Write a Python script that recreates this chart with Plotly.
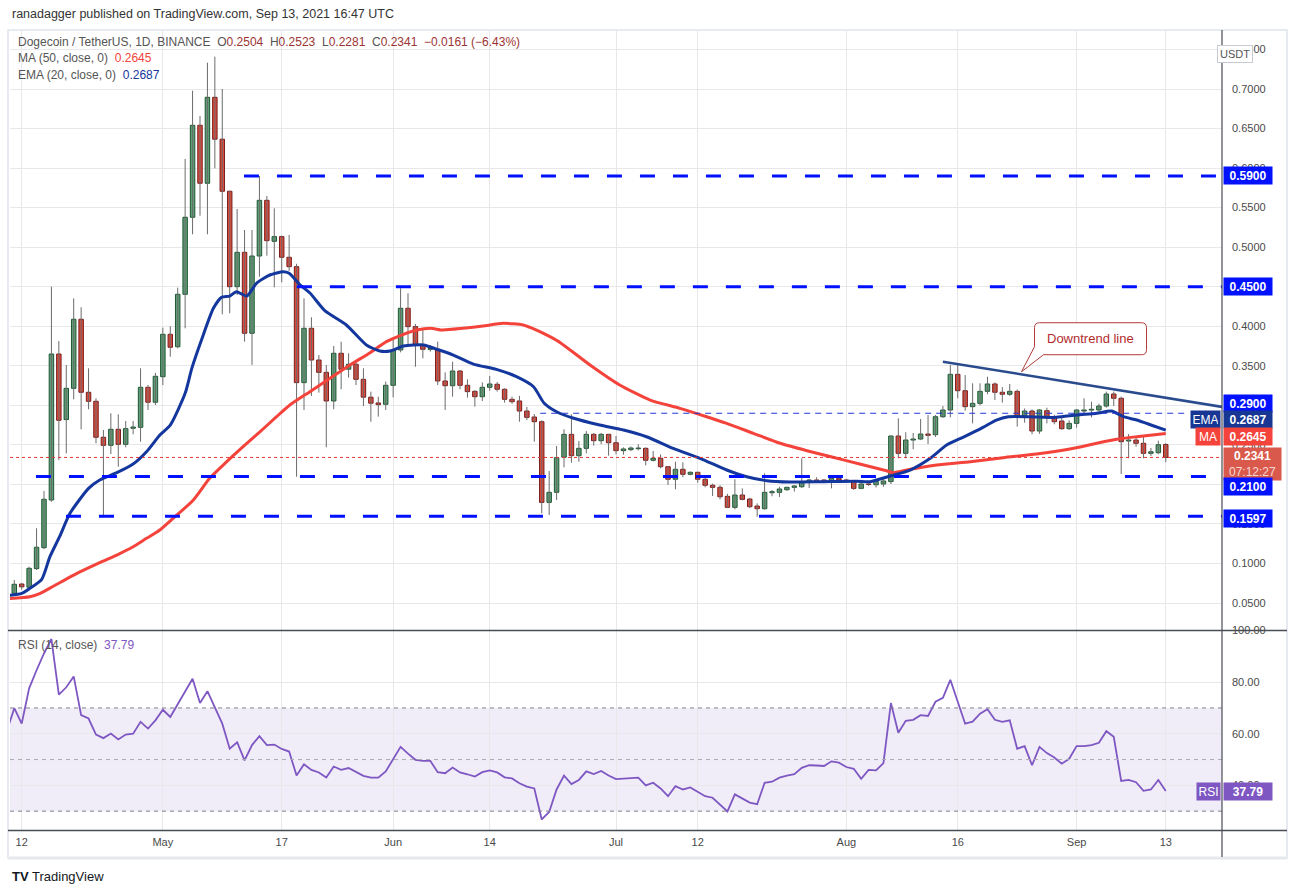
import pandas as pd
import plotly.graph_objects as go

# -------------------------------------------------------------------
# DATA (2021-04-11 .. 2021-09-13)
FIRST_DAY = "2021-04-11"

opens = [0.0623, 0.0740, 0.0700, 0.0935, 0.1200, 0.1803, 0.3649, 0.2820, 0.3215, 0.4088,
         0.3165, 0.3051, 0.2596, 0.2494, 0.2697, 0.2507, 0.2710, 0.2722, 0.3228, 0.3039,
         0.3362, 0.3898, 0.3741, 0.4404, 0.5378, 0.6541, 0.5808, 0.6895, 0.6365, 0.5707,
         0.4500, 0.4935, 0.3911, 0.4888, 0.5592, 0.5074, 0.5133, 0.4872, 0.4753, 0.3287,
         0.3974, 0.3573, 0.3417, 0.3055, 0.3658, 0.3457, 0.3519, 0.3329, 0.3103, 0.3030,
         0.3013, 0.3253, 0.3700, 0.4227, 0.3995, 0.3754, 0.3708, 0.3708, 0.3308, 0.3248,
         0.3434, 0.3253, 0.3177, 0.3109, 0.3228, 0.3266, 0.3203, 0.3076, 0.3055, 0.2928,
         0.2852, 0.2793, 0.1773, 0.1900, 0.2343, 0.2633, 0.2363, 0.2456, 0.2633, 0.2553,
         0.2633, 0.2527, 0.2427, 0.2440, 0.2452, 0.2456, 0.2305, 0.2330, 0.2224, 0.2065,
         0.2191, 0.2128, 0.2153, 0.2065, 0.1989, 0.1963, 0.1849, 0.1710, 0.1866, 0.1815,
         0.1727, 0.1693, 0.1895, 0.1900, 0.1933, 0.1963, 0.1971, 0.2027, 0.2056, 0.2056,
         0.2040, 0.2077, 0.2056, 0.2040, 0.1950, 0.2005, 0.1996, 0.2005, 0.2035, 0.2612,
         0.2393, 0.2561, 0.2574, 0.2637, 0.2629, 0.2856, 0.2941, 0.3392, 0.3185, 0.2983,
         0.3025, 0.3177, 0.3270, 0.3165, 0.3140, 0.3177, 0.2870, 0.2928, 0.2675, 0.2932,
         0.2848, 0.2802, 0.2705, 0.2772, 0.2928, 0.2940, 0.2941, 0.2991, 0.3143, 0.3089,
         0.2549, 0.2561, 0.2520, 0.2393, 0.2401, 0.2504]
highs = [0.0791, 0.0754, 0.0960, 0.1445, 0.1917, 0.4500, 0.3813, 0.3510, 0.4353, 0.4240,
         0.3468, 0.3089, 0.2688, 0.2899, 0.2886, 0.2802, 0.2802, 0.3468, 0.3257, 0.3410,
         0.3982, 0.4000, 0.4488, 0.6115, 0.6979, 0.6659, 0.7333, 0.7409, 0.7000, 0.5713,
         0.5483, 0.5217, 0.5217, 0.5900, 0.5647, 0.5491, 0.5147, 0.5154, 0.4790, 0.4353,
         0.4113, 0.3636, 0.3510, 0.3750, 0.3805, 0.3658, 0.3565, 0.3468, 0.3173, 0.3109,
         0.3299, 0.3856, 0.4480, 0.4417, 0.4028, 0.3953, 0.3763, 0.3805, 0.3417, 0.3552,
         0.3445, 0.3329, 0.3190, 0.3291, 0.3371, 0.3295, 0.3215, 0.3109, 0.3120, 0.2980,
         0.2890, 0.2810, 0.2169, 0.2486, 0.2697, 0.2886, 0.2549, 0.2675, 0.2650, 0.2650,
         0.2640, 0.2612, 0.2469, 0.2480, 0.2507, 0.2469, 0.2422, 0.2380, 0.2230, 0.2287,
         0.2280, 0.2165, 0.2160, 0.2090, 0.2010, 0.1990, 0.1880, 0.2065, 0.1950, 0.1830,
         0.1760, 0.2140, 0.1930, 0.1970, 0.1970, 0.1990, 0.2330, 0.2070, 0.2090, 0.2062,
         0.2090, 0.2100, 0.2070, 0.2056, 0.2020, 0.2020, 0.2070, 0.2070, 0.2616, 0.2836,
         0.2659, 0.2650, 0.2827, 0.2878, 0.2878, 0.2991, 0.3510, 0.3510, 0.3383, 0.3278,
         0.3278, 0.3362, 0.3290, 0.3230, 0.3270, 0.3200, 0.2960, 0.2950, 0.2950, 0.2970,
         0.2880, 0.2840, 0.2810, 0.2950, 0.3089, 0.3046, 0.3020, 0.3173, 0.3173, 0.3110,
         0.2637, 0.2600, 0.2616, 0.2460, 0.2553, 0.2523]
lows = [0.0601, 0.0670, 0.0670, 0.0917, 0.1180, 0.1780, 0.2309, 0.2393, 0.3076, 0.2697,
        0.2950, 0.2520, 0.1584, 0.2384, 0.2224, 0.2469, 0.2633, 0.2540, 0.2941, 0.3004,
        0.3257, 0.3615, 0.3720, 0.3974, 0.5163, 0.5398, 0.5163, 0.5997, 0.4151, 0.4164,
        0.4395, 0.3805, 0.3510, 0.4627, 0.4892, 0.4492, 0.4556, 0.4699, 0.2097, 0.2941,
        0.3118, 0.3160, 0.2469, 0.2950, 0.3203, 0.3350, 0.3257, 0.2991, 0.2793, 0.2857,
        0.2941, 0.3101, 0.3670, 0.3763, 0.3488, 0.3595, 0.3679, 0.3257, 0.2941, 0.3109,
        0.3203, 0.3097, 0.2983, 0.3055, 0.3185, 0.3173, 0.3034, 0.3020, 0.2793, 0.2814,
        0.2540, 0.1634, 0.1613, 0.1803, 0.2216, 0.2275, 0.2287, 0.2393, 0.2490, 0.2510,
        0.2363, 0.2380, 0.2376, 0.2420, 0.2430, 0.2241, 0.2290, 0.2203, 0.1992, 0.1938,
        0.2090, 0.2115, 0.2022, 0.1963, 0.1853, 0.1811, 0.1700, 0.1685, 0.1800, 0.1700,
        0.1592, 0.1680, 0.1850, 0.1840, 0.1920, 0.1910, 0.1955, 0.1955, 0.2030, 0.2035,
        0.1950, 0.2040, 0.2030, 0.1930, 0.1940, 0.1980, 0.1960, 0.1970, 0.2005, 0.2330,
        0.2330, 0.2444, 0.2560, 0.2511, 0.2600, 0.2840, 0.2848, 0.3089, 0.2932, 0.2772,
        0.3000, 0.3140, 0.3067, 0.3034, 0.3120, 0.2731, 0.2780, 0.2633, 0.2640, 0.2772,
        0.2760, 0.2690, 0.2690, 0.2718, 0.2890, 0.2848, 0.2920, 0.2970, 0.2991, 0.2131,
        0.2330, 0.2477, 0.2330, 0.2360, 0.2380, 0.2281]
closes = [0.0737, 0.0705, 0.0939, 0.1205, 0.1812, 0.3649, 0.2811, 0.3215, 0.4088, 0.3165,
          0.3051, 0.2596, 0.2494, 0.2697, 0.2507, 0.2705, 0.2726, 0.3228, 0.3039, 0.3367,
          0.3898, 0.3734, 0.4404, 0.5378, 0.6541, 0.5808, 0.6895, 0.6365, 0.5707, 0.4500,
          0.4935, 0.3911, 0.4888, 0.5592, 0.5082, 0.5133, 0.4872, 0.4753, 0.3287, 0.3974,
          0.3573, 0.3417, 0.3055, 0.3658, 0.3457, 0.3519, 0.3329, 0.3103, 0.3027, 0.3008,
          0.3253, 0.3700, 0.4227, 0.3995, 0.3763, 0.3708, 0.3718, 0.3308, 0.3248, 0.3434,
          0.3253, 0.3173, 0.3109, 0.3228, 0.3270, 0.3203, 0.3076, 0.3046, 0.2928, 0.2848,
          0.2793, 0.1773, 0.1900, 0.2338, 0.2633, 0.2363, 0.2456, 0.2633, 0.2553, 0.2633,
          0.2527, 0.2427, 0.2448, 0.2460, 0.2460, 0.2305, 0.2330, 0.2224, 0.2065, 0.2191,
          0.2128, 0.2153, 0.2065, 0.1989, 0.1963, 0.1844, 0.1710, 0.1866, 0.1811, 0.1718,
          0.1693, 0.1900, 0.1908, 0.1942, 0.1963, 0.1980, 0.2027, 0.2056, 0.2040, 0.2045,
          0.2077, 0.2056, 0.2040, 0.1950, 0.2005, 0.2000, 0.2040, 0.2043, 0.2612, 0.2393,
          0.2561, 0.2574, 0.2637, 0.2621, 0.2856, 0.2941, 0.3392, 0.3185, 0.2983, 0.3025,
          0.3177, 0.3270, 0.3165, 0.3140, 0.3177, 0.2870, 0.2928, 0.2675, 0.2941, 0.2848,
          0.2793, 0.2705, 0.2772, 0.2941, 0.2941, 0.2950, 0.2991, 0.3143, 0.3089, 0.2540,
          0.2561, 0.2520, 0.2393, 0.2413, 0.2502, 0.2341]

# indicator lines: day offsets from 2021-04-12
BASE_DAY = "2021-04-12"
ema_days = [-2, 0, 1.1, 2.7, 3.8, 5.1, 6.5, 9, 10.5, 12.8, 15, 16.8, 18.6, 20, 22, 22.9, 24.2,
            25.8, 26.9, 28, 28.9, 30.3, 31.6, 33.4, 35.2, 36, 37.5, 38.8, 40.8, 43.7, 46.4,
            48.2, 49.6, 51.4, 54.1, 55.9, 58.1, 60.8, 63.9, 66.6, 68.9, 70.3, 72, 74.3, 77.8,
            81, 84.1, 87.7, 91.3, 94.9, 97.6, 100.3, 103.4, 107.9, 112.4, 114.2, 116.9, 119.6,
            122.3, 124.5, 126.7, 129.4, 131.2, 132.8, 135.7, 139.3, 142, 144.7, 146.7, 148.3,
            150.1, 152.3, 154]
ema_vals = [0.0595, 0.0623, 0.0686, 0.0800, 0.1086, 0.1339, 0.1634, 0.1950, 0.2056, 0.2148,
            0.2258, 0.2413, 0.2625, 0.2751, 0.3152, 0.3468, 0.3826, 0.4227, 0.4366, 0.4382,
            0.4437, 0.4382, 0.4543, 0.4648, 0.4690, 0.4670, 0.4520, 0.4420, 0.4197, 0.4016,
            0.3763, 0.3687, 0.3687, 0.3750, 0.3763, 0.3708, 0.3636, 0.3522, 0.3455, 0.3362,
            0.3235, 0.3030, 0.2919, 0.2836, 0.2751, 0.2688, 0.2603, 0.2456, 0.2330, 0.2182,
            0.2097, 0.2047, 0.2030, 0.2035, 0.2040, 0.2035, 0.2106, 0.2182, 0.2330, 0.2498,
            0.2596, 0.2722, 0.2814, 0.2856, 0.2856, 0.2848, 0.2878, 0.2899, 0.2928, 0.2856,
            0.2814, 0.2742, 0.2687]
ma_days = [-2, 1.1, 2.5, 4.3, 7, 10.5, 12.8, 15, 16.8, 18.6, 20.5, 23.1, 25.3, 27.6, 29.8,
           32.1, 34.3, 36.1, 38.8, 41.5, 44.2, 46.9, 49.1, 51.4, 53.2, 55, 56.7, 59.4, 62.1,
           64.8, 67.5, 69.3, 71.1, 72.5, 76.5, 80.5, 84.6, 88.6, 92.2, 94.9, 98.5, 102.1,
           105.7, 109.2, 112.8, 116.4, 117.3, 119.6, 123.2, 127.7, 132.1, 136.6, 141.1,
           144.7, 147.4, 150.1, 154]
ma_vals = [0.0555, 0.0580, 0.0623, 0.0715, 0.0854, 0.1010, 0.1107, 0.1212, 0.1318, 0.1423,
           0.1580, 0.1803, 0.2077, 0.2287, 0.2477, 0.2667, 0.2856, 0.3004, 0.3173, 0.3342,
           0.3510, 0.3666, 0.3805, 0.3898, 0.3952, 0.3974, 0.3952, 0.3974, 0.4003, 0.4037,
           0.4016, 0.3952, 0.3868, 0.3792, 0.3510, 0.3257, 0.3067, 0.2962, 0.2856, 0.2772,
           0.2646, 0.2520, 0.2426, 0.2343, 0.2258, 0.2173, 0.2148, 0.2191, 0.2245, 0.2287,
           0.2338, 0.2384, 0.2448, 0.2520, 0.2570, 0.2603, 0.2645]

# RSI(14), one value per day from 2021-04-10
RSI_FIRST_DAY = "2021-04-10"
rsi_vals = [61.0, 69.9, 63.9, 77.6, 84.6, 91.1, 96.7, 75.2, 78.0, 82.2,
            67.2, 65.9, 59.7, 58.3, 60.1, 57.8, 59.7, 60.0, 64.6, 62.0,
            65.2, 69.3, 66.5, 71.5, 76.5, 81.3, 71.9, 76.5, 70.2, 63.9,
            54.2, 56.7, 49.7, 55.6, 59.1, 55.6, 55.8, 54.1, 53.1, 43.8,
            48.2, 46.0, 45.0, 43.0, 47.3, 46.0, 46.7, 45.2, 43.7, 43.0,
            43.0, 45.4, 49.9, 54.9, 52.3, 49.9, 49.5, 49.5, 45.1, 44.7,
            46.9, 45.0, 44.3, 43.4, 45.1, 45.8, 45.0, 43.1, 42.7, 40.8,
            39.5, 38.8, 26.8, 29.7, 38.4, 43.8, 40.5, 42.1, 45.4, 44.4,
            45.6, 43.8, 42.4, 42.6, 43.0, 43.0, 40.0, 41.0, 38.8, 35.8,
            39.7, 38.4, 39.2, 37.5, 35.8, 35.2, 32.5, 29.9, 36.5, 34.9,
            33.3, 32.7, 41.0, 41.4, 43.0, 43.8, 44.3, 46.8, 47.8, 47.7,
            47.5, 49.3, 48.8, 47.1, 46.4, 42.5, 46.0, 45.8, 48.6, 71.9,
            60.4, 65.0, 65.4, 67.2, 66.9, 72.4, 73.9, 80.9, 72.4, 63.9,
            64.7, 67.8, 69.5, 65.4, 64.6, 65.2, 54.2, 55.2, 47.8, 54.9,
            52.5, 50.8, 48.4, 50.3, 55.2, 55.2, 55.6, 56.5, 61.0, 58.8,
            41.7, 42.1, 41.2, 37.9, 38.4, 42.1, 37.79]
rsi_levels = [70, 50, 30]

# drawings
level_prices = [0.59, 0.45, 0.21, 0.1597]
level_starts = ["2021-05-11 22:00", "2021-05-19 01:00", "2021-04-13 22:00", "2021-04-17 23:00"]
thin_level = 0.29
thin_dates = ["2021-06-20 19:00", "2021-09-16"]
trend_dates = ["2021-08-14", "2021-09-21"]
trend_prices = [0.3552, 0.2974]
callout_date, callout_price = "2021-08-24 14:00", 0.3425

tick_dates = ["2021-04-12", "2021-05-01", "2021-05-17", "2021-06-01", "2021-06-14", "2021-07-01",
              "2021-07-12", "2021-08-01", "2021-08-16", "2021-09-01", "2021-09-13"]
tick_labels = ["12", "May", "17", "Jun", "14", "Jul", "12", "Aug", "16", "Sep", "13"]
price_ticks = [0.05, 0.10, 0.15, 0.20, 0.25, 0.30, 0.35, 0.40, 0.45, 0.50, 0.55, 0.60, 0.65, 0.70, 0.75]
hidden_price_ticks = [0.20, 0.30]   # fully covered by the line tags in the reference
rsi_ticks = [20, 40, 60, 80, 100]
# -------------------------------------------------------------------

FONT = "Liberation Sans, Arial, sans-serif"
GRID = "#e8e8ea"
UP_FILL, UP_EDGE = "#5d9e76", "#1e5631"
DN_FILL, DN_EDGE = "#db4a3a", "#7a1e1e"
EMA_C, MA_C, RSI_C = "#14379e", "#f4433b", "#7e57c2"
LEVEL_C = "#0011ff"

dates = pd.date_range(FIRST_DAY, periods=len(closes), freq="D")
base = pd.Timestamp(BASE_DAY)
ema_x = [base + pd.Timedelta(days=d) for d in ema_days]
ma_x = [base + pd.Timedelta(days=d) for d in ma_days]
rsi_x = pd.date_range(RSI_FIRST_DAY, periods=len(rsi_vals), freq="D")

fig = go.Figure()

# 1) candles: wicks + bodies ----------------------------------------
wx, wy = [], []
for t, h, l in zip(dates, highs, lows):
    wx += [t, t, None]
    wy += [l, h, None]
fig.add_scatter(x=wx, y=wy, mode="lines", line=dict(color="#6b6b6b", width=1),
                hoverinfo="skip", xaxis="x", yaxis="y")

up = [c >= o for o, c in zip(opens, closes)]
fig.add_bar(
    x=dates,
    y=[abs(c - o) for o, c in zip(opens, closes)],
    base=[min(o, c) for o, c in zip(opens, closes)],
    width=0.6 * 86400000,
    marker=dict(color=[UP_FILL if u else DN_FILL for u in up],
                line=dict(color=[UP_EDGE if u else DN_EDGE for u in up], width=1)),
    xaxis="x", yaxis="y",
)

# 2) moving averages + trendline ------------------------------------
fig.add_scatter(x=ma_x, y=ma_vals, mode="lines", line=dict(color=MA_C, width=3, shape="spline", smoothing=0.6),
                xaxis="x", yaxis="y")
fig.add_scatter(x=ema_x, y=ema_vals, mode="lines", line=dict(color=EMA_C, width=3, shape="spline", smoothing=0.6),
                xaxis="x", yaxis="y")
fig.add_scatter(x=trend_dates, y=trend_prices, mode="lines", line=dict(color="#2a4b8d", width=2.5),
                xaxis="x", yaxis="y")

# 3) RSI --------------------------------------------------------------
fig.add_scatter(x=rsi_x, y=rsi_vals, mode="lines", line=dict(color=RSI_C, width=1.8),
                xaxis="x2", yaxis="y2")

# 4) shapes -------------------------------------------------------------
def X(px):
    return (px - 10) / 1212


def Y(py):
    return (830 - py) / 800


shapes = []
shapes.append(dict(type="rect", xref="paper", yref="y2", x0=0, x1=1, y0=rsi_levels[2], y1=rsi_levels[0],
                   fillcolor="#f0ecf8", line=dict(width=0), layer="below"))
for lv in rsi_levels:
    shapes.append(dict(type="line", xref="paper", yref="y2", x0=0, x1=1, y0=lv, y1=lv,
                       line=dict(color="#80838c" if lv != 50 else "#a9abb3", width=1, dash="4px,4px")))
for lv, st in zip(level_prices, level_starts):
    shapes.append(dict(type="line", xref="x", yref="y", x0=st, x1="2021-09-30", y0=lv, y1=lv,
                       line=dict(color=LEVEL_C, width=3, dash="15px,18px")))
shapes.append(dict(type="line", xref="x", yref="y", x0=thin_dates[0], x1=thin_dates[1],
                   y0=thin_level, y1=thin_level, line=dict(color="#2438d8", width=1.2, dash="6px,5px")))
shapes.append(dict(type="line", xref="paper", yref="y", x0=0, x1=1, y0=closes[-1], y1=closes[-1],
                   line=dict(color="#e53935", width=1, dash="dot")))
# speech bubble of the "Downtrend line" note, pixel offsets from its tip
shapes.append(dict(type="path", xref="x", yref="y", xsizemode="pixel", ysizemode="pixel",
                   xanchor=callout_date, yanchor=callout_price,
                   path="M0,0 L13,25 L13,44 Q13,49 18,49 L120,49 Q125,49 125,44 L125,22 Q125,17 120,17 L22,17 Z",
                   line=dict(color="#b23a3a", width=1), fillcolor="white", layer="above"))
# frame, separators, axis lines
shapes.append(dict(type="rect", xref="paper", yref="paper", x0=X(8), x1=X(1287), y0=Y(858), y1=Y(30),
                   line=dict(color="#e0e3eb", width=1.5), layer="below"))
shapes.append(dict(type="line", xref="paper", yref="paper", x0=X(8), x1=X(1287), y0=Y(858), y1=Y(858),
                   line=dict(color="#e6e8ee", width=3)))
for py in (630.5, 830.5):
    shapes.append(dict(type="line", xref="paper", yref="paper", x0=X(8), x1=X(1287), y0=Y(py), y1=Y(py),
                       line=dict(color="#4a4c55", width=1.5)))
shapes.append(dict(type="line", xref="paper", yref="paper", x0=1, x1=1, y0=Y(857), y1=Y(30),
                   line=dict(color="#4a4c55", width=1.2)))

# 5) annotations -------------------------------------------------------
def tag(y, text, bg, yref="y", yshift=0, w=44, h=13, left=False, bold=True):
    return dict(xref="paper", x=1, yref=yref, y=y, text=f"<b>{text}</b>" if bold else text,
                showarrow=False, xanchor="right" if left else "left", xshift=-1 if left else 1,
                yanchor="middle", yshift=yshift, bgcolor=bg, width=w, height=h, borderpad=2,
                align="center", font=dict(family=FONT, size=12, color="white"))


VAL_C = "#9b3434"
chg = closes[-1] - closes[-2]
pct = chg / closes[-2] * 100
minus = lambda s: s.replace("-", "\u2212")
sp = "\u00a0\u00a0"
ohlc = (f"Dogecoin / TetherUS, 1D, BINANCE{sp}"
        f"O<span style='color:{VAL_C}'>{opens[-1]:.4f}</span>{sp}"
        f"H<span style='color:{VAL_C}'>{highs[-1]:.4f}</span>{sp}"
        f"L<span style='color:{VAL_C}'>{lows[-1]:.4f}</span>{sp}"
        f"C<span style='color:{VAL_C}'>{closes[-1]:.4f}</span>{sp}"
        f"<span style='color:{VAL_C}'>{minus(f'{chg:.4f}')} ({minus(f'{pct:.2f}')}%)</span>")

annos = [
    dict(xref="paper", yref="paper", x=X(10), y=Y(14), xanchor="left", yanchor="middle", showarrow=False,
         text="ranadagger published on TradingView.com, Sep 13, 2021 16:47 UTC",
         font=dict(family=FONT, size=12.5, color="#333333")),
    dict(xref="paper", yref="paper", x=X(16), y=Y(42), xanchor="left", yanchor="middle", showarrow=False,
         text=ohlc, font=dict(family=FONT, size=12, color="#555555")),
    dict(xref="paper", yref="paper", x=X(16), y=Y(58), xanchor="left", yanchor="middle", showarrow=False,
         text=f"MA (50, close, 0){sp}<span style='color:{MA_C}'>{ma_vals[-1]:.4f}</span>",
         font=dict(family=FONT, size=12, color="#555555")),
    dict(xref="paper", yref="paper", x=X(16), y=Y(75), xanchor="left", yanchor="middle", showarrow=False,
         text=f"EMA (20, close, 0){sp}<span style='color:{EMA_C}'>{ema_vals[-1]:.4f}</span>",
         font=dict(family=FONT, size=12, color="#555555")),
    dict(xref="paper", yref="paper", x=X(16), y=Y(645), xanchor="left", yanchor="middle", showarrow=False,
         text=f"RSI (14, close){sp}<span style='color:{RSI_C}'>{rsi_vals[-1]:.2f}</span>",
         font=dict(family=FONT, size=12, color="#555555")),
    dict(xref="x", yref="y", x=callout_date, y=callout_price, xshift=69, yshift=33, showarrow=False,
         text="Downtrend line", font=dict(family=FONT, size=13, color="#b22c2c")),
    dict(xref="paper", yref="paper", x=X(1253), y=Y(45), showarrow=False, text="USDT",
         bgcolor="white", bordercolor="#c8cbd2", borderwidth=1, borderpad=2,
         font=dict(family=FONT, size=11, color="#555555")),
    dict(xref="paper", yref="paper", x=X(10), y=Y(876), xanchor="left", yanchor="middle", showarrow=False,
         text="<b>TV</b> TradingView", font=dict(family=FONT, size=13, color="#131722")),
]
annos += [tag(level_prices[0], f"{level_prices[0]:.4f}", LEVEL_C),
          tag(level_prices[1], f"{level_prices[1]:.4f}", LEVEL_C),
          tag(thin_level, f"{thin_level:.4f}", LEVEL_C, yshift=10),
          tag(ema_vals[-1], f"{ema_vals[-1]:.4f}", "#183694", yshift=11),
          tag(ema_vals[-1], "EMA", "#183694", yshift=11, w=25, left=True, bold=False),
          tag(ma_vals[-1], f"{ma_vals[-1]:.4f}", MA_C, yshift=-3),
          tag(ma_vals[-1], "MA", MA_C, yshift=-3, w=20, left=True, bold=False),
          tag(closes[-1], f"<b>{closes[-1]:.4f}</b><br><span style='color:#f7d9d4'>07:12:27</span>",
              "#d9594c", yshift=-7, w=53, h=28, bold=False),
          tag(level_prices[2], f"{level_prices[2]:.4f}", LEVEL_C, yshift=-10),
          tag(level_prices[3], f"{level_prices[3]:.4f}", LEVEL_C, yshift=-2),
          tag(rsi_vals[-1], f"{rsi_vals[-1]:.2f}", RSI_C, yref="y2"),
          tag(rsi_vals[-1], "RSI", RSI_C, yref="y2", w=19, left=True, bold=False)]

# 6) layout ------------------------------------------------------------
fig.update_layout(
    width=1295, height=893,
    margin=dict(l=10, r=73, t=30, b=63),
    paper_bgcolor="white", plot_bgcolor="white",
    showlegend=False, barmode="overlay",
    font=dict(family=FONT, size=11, color="#4a4a4a"),
    xaxis=dict(domain=[0, 1], anchor="y", type="date",
               range=["2021-04-10 10:12", "2021-09-20 13:40"],
               tickvals=tick_dates, showticklabels=False, showgrid=True, gridcolor=GRID,
               zeroline=False, ticks=""),
    yaxis=dict(domain=[0.25, 1], anchor="x", side="right", range=[0.0159, 0.7746],
               tickvals=price_ticks,
               ticktext=["" if any(abs(v - h) < 1e-9 for h in hidden_price_ticks) else f"{v:.4f}"
                         for v in price_ticks],
               showgrid=True, gridcolor=GRID, zeroline=False, ticks="", ticklabelstandoff=9,
               tickfont=dict(family=FONT, size=11, color="#4a4a4a")),
    xaxis2=dict(domain=[0, 1], anchor="y2", type="date", matches="x",
                tickvals=tick_dates, ticktext=tick_labels, showgrid=True, gridcolor=GRID,
                zeroline=False, ticks="", ticklabelstandoff=4,
                tickfont=dict(family=FONT, size=11, color="#4a4a4a")),
    yaxis2=dict(domain=[0, 0.25], anchor="x2", side="right", range=[22.7, 100.2],
                tickvals=rsi_ticks, ticktext=[f"{v:.2f}" for v in rsi_ticks],
                showgrid=True, gridcolor=GRID, zeroline=False, ticks="", ticklabelstandoff=9,
                tickfont=dict(family=FONT, size=11, color="#4a4a4a")),
    shapes=shapes,
    annotations=annos,
)

# the page body has an 8px default margin; drop it so the figure sits at 0,0
fig.write_html("out.html", config={"displayModeBar": False},
               post_script="document.body.style.margin='0';")
